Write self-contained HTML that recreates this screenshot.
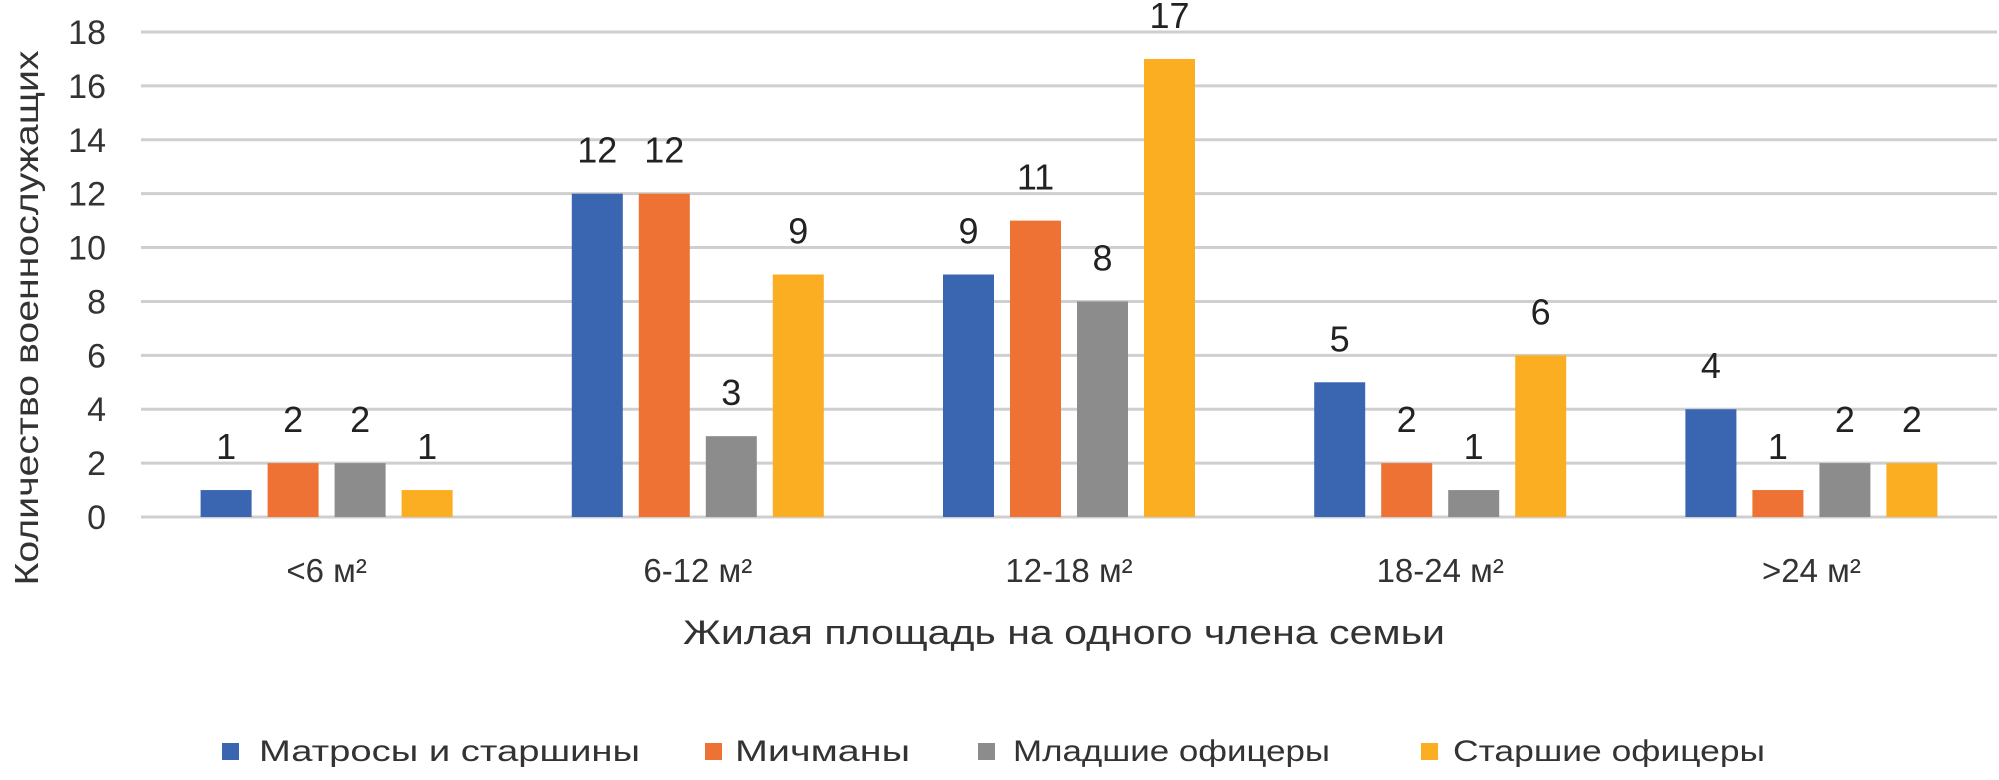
<!DOCTYPE html>
<html><head><meta charset="utf-8"><style>
html,body{margin:0;padding:0;background:#fff;}
svg{display:block;font-family:"Liberation Sans","DejaVu Sans",sans-serif;}
</style></head><body>
<svg id="chart" width="1999" height="780" viewBox="0 0 1999 780" xmlns="http://www.w3.org/2000/svg">
<g id="grid"></g>
<g id="yticks"></g>
<g id="bars"></g>
<g id="labels"></g>
<g id="xticks"></g>
<text x="38" y="318" transform="rotate(-90 38 318)" text-anchor="middle" font-size="33" fill="#333" textLength="535" lengthAdjust="spacingAndGlyphs">Количество военнослужащих</text>
<text x="1064" y="644" text-anchor="middle" font-size="34" fill="#333" textLength="762" lengthAdjust="spacingAndGlyphs">Жилая площадь на одного члена семьи</text>
<g id="legend"></g>
</svg>
<script>
const categories = ["<6 м²", "6-12 м²", "12-18 м²", "18-24 м²", ">24 м²"];
const seriesNames = ["Матросы и старшины", "Мичманы", "Младшие офицеры", "Старшие офицеры"];
const matrosy = [1, 12, 9, 5, 4];
const michmany = [2, 12, 11, 2, 1];
const mladshie = [2, 3, 8, 1, 2];
const starshie = [1, 9, 17, 6, 2];
const yTicks = [0, 2, 4, 6, 8, 10, 12, 14, 16, 18];

const series = [matrosy, michmany, mladshie, starshie];
const colors = ["#3a65b0", "#ed7233", "#8c8c8c", "#fbae22"];
const NS = "http://www.w3.org/2000/svg";
const plotL = 141, plotR = 1997, y0 = 517, yTop = 32, yMax = 18;
const catW = (plotR - plotL) / categories.length;
const barW = 51, barStep = 67;
const y = v => y0 - (v / yMax) * (y0 - yTop);
const xCat = i => plotL + catW * (i + 0.5);
function mk(tag, attrs, parent) {
  const e = document.createElementNS(NS, tag);
  for (const k in attrs) e.setAttribute(k, attrs[k]);
  parent.appendChild(e);
  return e;
}
const grid = document.getElementById('grid');
const yt = document.getElementById('yticks');
yTicks.forEach(t => {
  const l = mk('line', {x1: plotL, x2: plotR, y1: y(t), y2: y(t), stroke: '#cfcfcf', 'stroke-width': 3}, grid);
  
  
  const tx = mk('text', {x: 106, y: y(t) + 12, 'text-anchor': 'end', 'font-size': 34, fill: '#333'}, yt);
  tx.textContent = t;
  
  
});
const bars = document.getElementById('bars');
const labs = document.getElementById('labels');
const xt = document.getElementById('xticks');
categories.forEach((c, i) => {
  const gx = xCat(i) - (3 * barStep + barW) / 2;
  series.forEach((s, j) => {
    const v = s[i];
    const x = gx + j * barStep;
    const r = mk('rect', {x: x, y: y(v), width: barW, height: y0 - y(v), fill: colors[j]}, bars);
    
    
    const t = mk('text', {x: x + barW / 2, y: y(v) - 31, 'text-anchor': 'middle', 'font-size': 36, fill: '#222'}, labs);
    t.textContent = v;
    
    
  });
  const ct = mk('text', {x: xCat(i), y: 582, 'text-anchor': 'middle', 'font-size': 33, fill: '#333'}, xt);
  ct.textContent = c;
  
  
});
const leg = document.getElementById('legend');
const legSq = [222, 705, 978, 1421];
const legTx = [259, 735, 1013, 1453];
const legW = [381, 175, 317, 312];
seriesNames.forEach((n, j) => {
  const r = mk('rect', {x: legSq[j], y: 743, width: 17, height: 17, fill: colors[j]}, leg);
  
  
  const t = mk('text', {x: legTx[j], y: 761, 'font-size': 30, fill: '#333', textLength: legW[j], lengthAdjust: 'spacingAndGlyphs'}, leg);
  t.textContent = n;
  
  
});
</script>
</body></html>
